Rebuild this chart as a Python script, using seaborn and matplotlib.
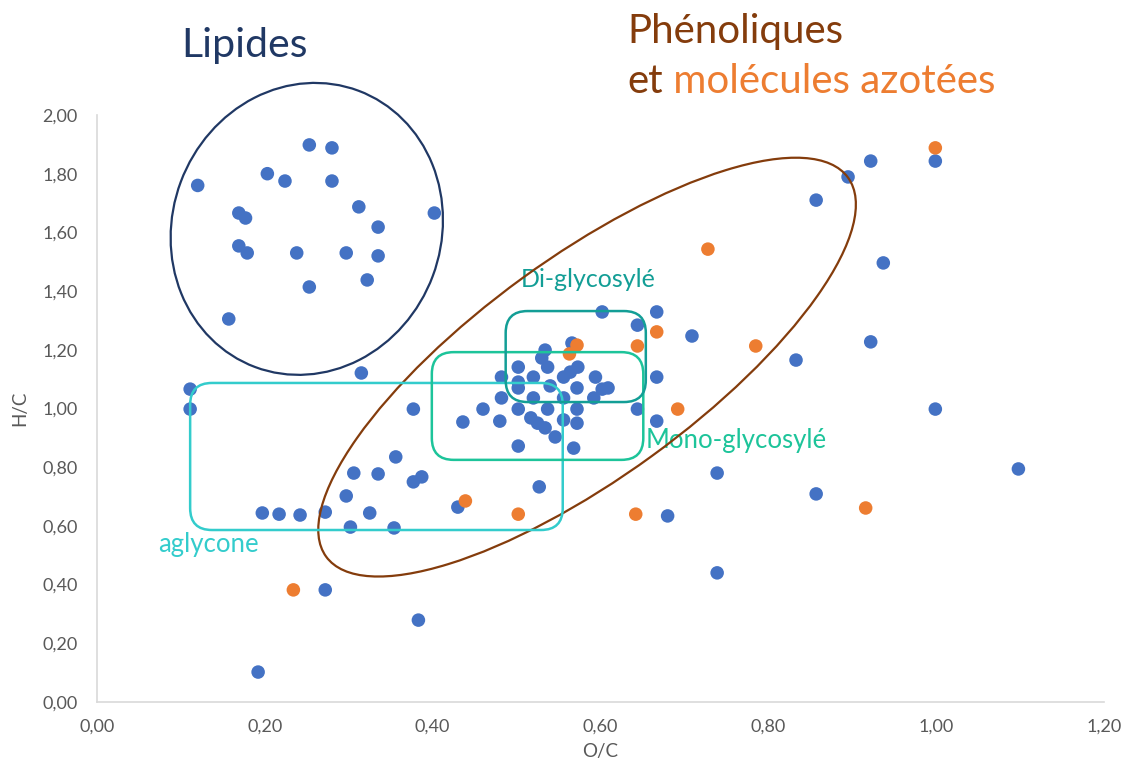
import numpy as np
import pandas as pd
import matplotlib
matplotlib.use("Agg")
import matplotlib.pyplot as plt
import seaborn as sns
from matplotlib.patches import Ellipse, FancyBboxPatch
from matplotlib.transforms import ScaledTranslation
from matplotlib.ticker import FuncFormatter

# ------------------------------
# Data
# ------------------------------
blue_oc = [0.120, 0.253, 0.280, 0.203, 0.224, 0.280, 0.312, 0.402, 0.169, 0.177,
           0.335, 0.169, 0.179, 0.238, 0.297, 0.335, 0.322, 0.253, 0.157, 0.315,
           0.111, 0.111, 0.377, 0.436, 0.460, 0.480, 0.502, 0.568, 0.356, 0.306,
           0.335, 0.387, 0.377, 0.297, 0.527, 0.430, 0.197, 0.217, 0.242, 0.272,
           0.325, 0.302, 0.354, 0.272, 0.383, 0.192,
           0.999, 0.922, 0.895, 0.857, 0.937, 0.667, 0.709, 0.922, 0.833, 0.667,
           0.999, 0.667, 0.739, 1.098, 0.857, 0.680, 0.739,
           0.602, 0.644, 0.566, 0.534, 0.530, 0.537, 0.573, 0.564, 0.556, 0.502,
           0.482, 0.520, 0.594, 0.502, 0.502, 0.540, 0.572, 0.602, 0.609, 0.482,
           0.520, 0.556, 0.592, 0.502, 0.537, 0.572, 0.644, 0.517, 0.525, 0.534,
           0.556, 0.572, 0.546]
blue_hc = [1.760, 1.898, 1.888, 1.800, 1.775, 1.775, 1.687, 1.666, 1.666, 1.649,
           1.618, 1.554, 1.530, 1.530, 1.530, 1.520, 1.438, 1.414, 1.305, 1.121,
           1.066, 0.998, 0.998, 0.954, 0.998, 0.957, 0.872, 0.865, 0.835, 0.780,
           0.777, 0.767, 0.750, 0.702, 0.733, 0.664, 0.644, 0.640, 0.637, 0.647,
           0.644, 0.596, 0.593, 0.382, 0.279, 0.102,
           1.843, 1.843, 1.789, 1.710, 1.496, 1.329, 1.247, 1.227, 1.165, 1.107,
           0.998, 0.957, 0.780, 0.794, 0.709, 0.634, 0.440,
           1.329, 1.284, 1.223, 1.199, 1.172, 1.141, 1.141, 1.124, 1.107, 1.141,
           1.107, 1.107, 1.107, 1.090, 1.070, 1.077, 1.070, 1.066, 1.070, 1.036,
           1.036, 1.036, 1.036, 0.998, 0.998, 0.998, 0.998, 0.968, 0.950, 0.934,
           0.961, 0.950, 0.903]

orange_oc = [0.999, 0.728, 0.667, 0.785, 0.692, 0.916, 0.642, 0.502, 0.439, 0.234,
             0.644, 0.572, 0.563]
orange_hc = [1.888, 1.543, 1.261, 1.213, 0.998, 0.661, 0.640, 0.640, 0.685, 0.382,
             1.213, 1.216, 1.186]

x_ticks = [0.0, 0.2, 0.4, 0.6, 0.8, 1.0, 1.2]
y_ticks = [0.0, 0.2, 0.4, 0.6, 0.8, 1.0, 1.2, 1.4, 1.6, 1.8, 2.0]

df = pd.DataFrame({
    "O/C": blue_oc + orange_oc,
    "H/C": blue_hc + orange_hc,
    "groupe": ["bleu"] * len(blue_oc) + ["orange"] * len(orange_oc),
})

BLUE = "#4472C4"
ORANGE = "#ED7D31"
NAVY = "#203864"
BROWN = "#843C0C"
AGLY = "#33CCCC"
MONO = "#1DC49A"
DI = "#139E96"
GREY = "#595959"

# ------------------------------
# Plot
# ------------------------------
sns.set_theme(style="white")
plt.rcParams["font.family"] = ["Lato", "DejaVu Sans"]

fig = plt.figure(figsize=(11.24, 7.76), dpi=100)
ax = fig.add_axes([97 / 1124, 74 / 776, 1007 / 1124, 587 / 776])

sns.scatterplot(data=df, x="O/C", y="H/C", hue="groupe",
                palette={"bleu": BLUE, "orange": ORANGE},
                s=95, linewidth=0, legend=False, ax=ax, zorder=3)

ax.set_xlim(0, 1.2)
ax.set_ylim(0, 2.0)
ax.set_xticks(x_ticks)
ax.set_yticks(y_ticks)
comma = FuncFormatter(lambda v, p: f"{v:.2f}".replace(".", ","))
ax.xaxis.set_major_formatter(comma)
ax.yaxis.set_major_formatter(comma)
ax.tick_params(axis="both", length=0, labelsize=13, colors=GREY)
ax.tick_params(axis="y", pad=14)
ax.tick_params(axis="x", pad=12)
ax.set_xlabel("O/C", fontsize=13.5, color=GREY, labelpad=6)
ax.set_ylabel("H/C", fontsize=13.5, color=GREY, labelpad=10)

for side in ["top", "right"]:
    ax.spines[side].set_visible(False)
for side in ["left", "bottom"]:
    ax.spines[side].set_color("#D9D9D9")
    ax.spines[side].set_linewidth(1.2)

# ellipses drawn in pixel units around a data-space centre
def pixel_ellipse(cx, cy, w_px, h_px, angle, color, lw):
    tr = fig.dpi_scale_trans + ScaledTranslation(cx, cy, ax.transData)
    e = Ellipse((0, 0), w_px / 100, h_px / 100, angle=angle, transform=tr,
                fill=False, edgecolor=color, linewidth=lw, zorder=4, clip_on=False)
    ax.add_patch(e)

pixel_ellipse(0.250, 1.612, 295, 269, 69.5, NAVY, 1.6)
pixel_ellipse(0.584, 1.141, 645, 220, 36, BROWN, 1.6)

# rounded boxes (aspect corrected so corners look round)
aspect = 839 / 293.5
def round_box(x0, y0, x1, y1, color):
    b = FancyBboxPatch((x0, y0), x1 - x0, y1 - y0,
                       boxstyle="round,pad=0,rounding_size=0.026",
                       mutation_aspect=aspect, fill=False,
                       edgecolor=color, linewidth=1.8, zorder=4)
    ax.add_patch(b)

round_box(0.111, 0.586, 0.555, 1.087, AGLY)
round_box(0.399, 0.825, 0.651, 1.192, MONO)
round_box(0.487, 1.022, 0.654, 1.332, DI)

# labels
ax.text(0.176, 2.198, "Lipides", color=NAVY, fontsize=29.5, ha="center",
        va="baseline", clip_on=False)
ax.text(0.632, 2.245, "Phénoliques", color=BROWN, fontsize=29, ha="left",
        va="baseline", clip_on=False)
t_et = ax.text(0.632, 2.075, "et", color=BROWN, fontsize=29, ha="left",
               va="baseline", clip_on=False)
ax.annotate(" molécules azotées", xy=(1, 0), xycoords=t_et, color=ORANGE,
            fontsize=29, ha="left", va="bottom", annotation_clip=False)
ax.text(0.505, 1.414, "Di-glycosylé", color=DI, fontsize=18, ha="left",
        va="baseline")
ax.text(0.654, 0.865, "Mono-glycosylé", color=MONO, fontsize=18.5, ha="left",
        va="baseline")
ax.text(0.073, 0.511, "aglycone", color=AGLY, fontsize=18.5, ha="left",
        va="baseline")

fig.savefig("out.png", dpi=100)
